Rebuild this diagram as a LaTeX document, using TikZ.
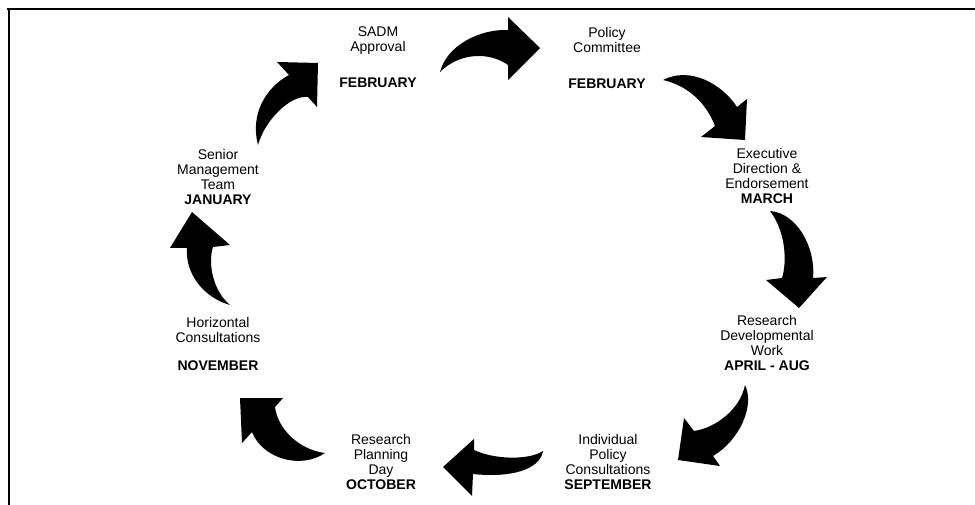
\documentclass[tikz,border=0pt]{standalone}
\usepackage{fontspec}
\setmainfont{Liberation Sans}
\begin{document}
\begin{tikzpicture}[x=1pt,y=-1pt,
        stage/.style={align=center,anchor=north,inner sep=0pt,font=\fontsize{14}{15}\selectfont},
        turn/.style={fill=black}]
        \useasboundingbox (0,0) rectangle (975,505);
        \draw [black,line width=1.5pt] (7,9) -- (975,9);
        \draw [black,line width=1.5pt] (9,9) -- (9,505);
        % stages of the cycle
        \node [stage] (sadm) at (378,27) {SADM\\Approval\\[21pt]\textbf{FEBRUARY}};
        \node [stage] (policy) at (607,27) {Policy\\Committee\\[21pt]\textbf{FEBRUARY}};
        \node [stage] (exec) at (767,148) {Executive\\Direction \&\\Endorsement\\\textbf{MARCH}};
        \node [stage] (resdev) at (767,315) {Research\\Developmental\\Work\\\textbf{APRIL - AUG}};
        \node [stage] (indiv) at (608,434) {Individual\\Policy\\Consultations\\\textbf{SEPTEMBER}};
        \node [stage] (plan) at (381,434) {Research\\Planning\\Day\\\textbf{OCTOBER}};
        \node [stage] (horiz) at (218,317) {Horizontal\\Consultations\\[13pt]\textbf{NOVEMBER}};
        \node [stage] (senior) at (218,149) {Senior\\Management\\Team\\\textbf{JANUARY}};
        % curved arrows, clockwise
        \fill [turn] (440,72) .. controls (447,45) and (480,29) .. (508,30) -- (508,17) -- (540,48) -- (508,80) -- (508,65) .. controls (490,52) and (460,52) .. (440,72) -- cycle;
        \fill [turn] (663,80) .. controls (690,66) and (722,84) .. (737,107) -- (747,99) -- (745,140) -- (701,137) -- (715,126) .. controls (705,100) and (685,85) .. (663,80) -- cycle;
        \fill [turn] (770,211) .. controls (797,213) and (816,248) .. (813,278) -- (827,277) -- (799,308) -- (766,280) -- (782,278) .. controls (787,262) and (786,232) .. (770,211) -- cycle;
        \fill [turn] (745,385) .. controls (755,405) and (740,440) .. (713,456) -- (720,466) -- (678,460) -- (684,418) -- (694,431) .. controls (715,428) and (740,410) .. (745,385) -- cycle;
        \fill [turn] (543,451) .. controls (530,460) and (495,460) .. (474,450) -- (474,439) -- (443,467) -- (472,496) -- (473,474) .. controls (510,478) and (540,470) .. (543,451) -- cycle;
        \fill [turn] (325,453) .. controls (300,450) and (278,430) .. (275,407) -- (283,398) -- (240,398) -- (242,443) -- (252,432) .. controls (262,458) and (300,470) .. (325,453) -- cycle;
        \fill [turn] (230,305) .. controls (212,290) and (208,262) .. (213,247) -- (230,245) -- (192,212) -- (170,248) -- (187,248) .. controls (185,275) and (205,298) .. (230,305) -- cycle;
        \fill [turn] (258,145) .. controls (250,115) and (265,88) .. (289,75) -- (277,62) -- (318,63) -- (317,107) -- (308,97) .. controls (290,95) and (265,120) .. (258,145) -- cycle;
\end{tikzpicture}
\end{document}
